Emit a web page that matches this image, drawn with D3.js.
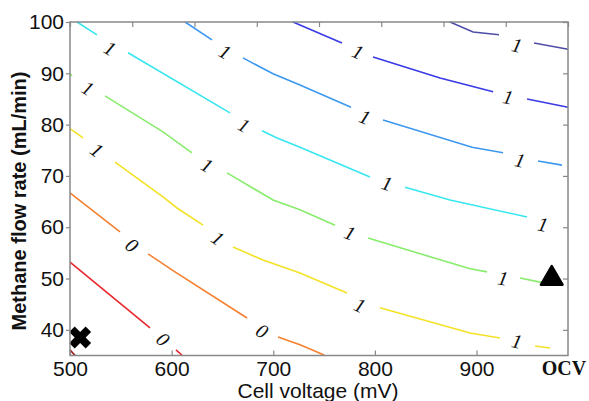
<!DOCTYPE html>
<html>
<head>
<meta charset="utf-8">
<title>Methane flow rate vs cell voltage</title>
<script src="https://cdn.jsdelivr.net/npm/d3@7/dist/d3.min.js"></script>
<style>
  body { margin: 0; background: #fff; }
  text { font-family: "Liberation Sans", Arial, sans-serif; }
</style>
</head>
<body>
<svg width="589" height="401"></svg>
<script>
// contour pieces as [cell voltage (mV), methane flow (mL/min)], gaps = where labels sit
const darkRedLine = [[[500, 36.1], [505, 35]]];
const redLine = [
    [[500, 53.2], [578.7, 40.4]],
    [[604.3, 36.1], [610.5, 35]]
];
const orangeLine = [
    [[500, 66.7], [549.2, 59.1]],
    [[576.8, 54.8], [603.3, 51.3], [674.2, 42.3]],
    [[704.7, 38.6], [726.3, 37.1], [750, 35.1]]
];
const yellowLine = [
    [[500, 79.2], [512.8, 77.4]],
    [[544.3, 72.7], [591.5, 65.9], [605.3, 63.75], [630.9, 60.4]],
    [[660.4, 56.15], [689.9, 53.6], [726.3, 51.1], [772.6, 47.2]],
    [[805, 44.3], [893.6, 39.4], [923.1, 38.4]],
    [[957.6, 36.85], [972.3, 36.46]]
];
const greenLine = [
    [[500, 89.9], [502, 89.5]],
    [[534.4, 85.6], [591.5, 78.6], [620, 74.5]],
    [[654.5, 70.6], [699.8, 65.3], [726.3, 63.4], [760.8, 60.4]],
    [[793.2, 57.9], [893.6, 51.9], [910.3, 51.3]],
    [[942.8, 50.1], [962.5, 49.3], [982.2, 48.9]]
];
const cyanLine = [
    [[506.9, 100], [526.6, 97.5]],
    [[557.1, 94.0], [657.4, 82.3]],
    [[688.9, 78.8], [703.7, 77.4], [726.3, 75.6], [795.2, 69.8]],
    [[829.6, 67.8], [873.9, 65.3], [949.7, 62.0]]
];
const skyLine = [
    [[613.2, 100], [639.7, 96.5]],
    [[670.2, 93.0], [699.8, 89.9], [726.3, 87.7], [776.5, 83.4]],
    [[808, 80.9], [895.6, 75.6], [926.1, 74.5]],
    [[960.5, 72.9], [984.1, 72.1]]
];
const blueLine = [
    [[719.4, 100], [767.6, 95.9]],
    [[798.2, 93.2], [864.1, 89.1], [916.3, 86.4]],
    [[949.7, 85.0], [990, 83.4]]
];
const indigoLine = [
    [[873.9, 100], [896.6, 98.05], [922.1, 97.5]],
    [[956.6, 95.9], [990, 94.7]]
];

// inline label positions for each contour
const darkRedLabels = [];
const redLabels = [[591.5, 38.2]];
const orangeLabels = [[561, 56.5], [689, 39.8]];
const yellowLabels = [[526.6, 75.05], [645.6, 57.9], [785.4, 44.8], [939.8, 37.8]];
const greenLabels = [[517.7, 87.1], [634.8, 72.1], [775.5, 58.9], [926, 50.1]];
const cyanLabels = [[539.4, 94.9], [671.2, 79.9], [811.9, 68.6], [965.4, 60.6]];
const skyLabels = [[652.5, 94.2], [790.3, 81.5], [942.8, 73.1]];
const blueLabels = [[783.4, 94.2], [931, 85.4]];
const indigoLabels = [[939.9, 95.5]];

const lineColors = ['#a01818', '#e8262c', '#f58030', '#f4e226', '#88ec6c', '#38e6f0', '#3c98f0', '#3a3ae6', '#4e4ea8'];
const labelTexts = ['0', '0', '0', '1', '1', '1', '1', '1', '1'];

const xTicks = [500, 600, 700, 800, 900];
const yTicks = [40, 50, 60, 70, 80, 90, 100];
const topTicks = [500, 561.25, 622.5, 683.75, 745, 806.25, 867.5, 928.75, 990];

const markerX = [[510, 38.5]];
const markerTriangle = [[974, 50]];

const lines = [darkRedLine, redLine, orangeLine, yellowLine, greenLine, cyanLine, skyLine, blueLine, indigoLine];
const labels = [darkRedLabels, redLabels, orangeLabels, yellowLabels, greenLabels, cyanLabels, skyLabels, blueLabels, indigoLabels];

const svg = d3.select('svg');

const x = d3.scaleLinear().domain([500, 990]).range([70, 568]);
const y = d3.scaleLinear().domain([35, 100]).range([355.5, 22]);

const line = d3.line().x(d => x(d[0])).y(d => y(d[1]));

const plot = svg.append('g');

lines.forEach((segs, i) => {
    plot.selectAll(null)
        .data(segs)
        .enter().append('path')
            .attr('d', line)
            .attr('fill', 'none')
            .attr('stroke', lineColors[i])
            .attr('stroke-width', 1.6);

    labels[i].forEach((lab, j) => {
        // angle of the gap the label sits in
        let a, b;
        if (segs[j + 1]) {
            a = segs[j][segs[j].length - 1];
            b = segs[j + 1][0];
        } else {
            const s = segs[j];
            a = s[s.length - 2];
            b = s[s.length - 1];
        }
        const ang = Math.atan2(y(b[1]) - y(a[1]), x(b[0]) - x(a[0])) * 180 / Math.PI;
        plot.append('text')
            .attr('transform', `translate(${x(lab[0])},${y(lab[1])}) rotate(${ang})`)
            .attr('text-anchor', 'middle')
            .attr('dominant-baseline', 'central')
            .style('font-family', '"Liberation Serif", "Times New Roman", serif')
            .style('font-style', 'italic')
            .style('font-size', '20px')
            .attr('fill', '#111')
            .text(labelTexts[i]);
    });
});

// markers
plot.selectAll(null)
    .data(markerX)
    .enter().append('path')
        .attr('d', d3.symbol(d3.symbolCross, 300))
        .attr('transform', d => `translate(${x(d[0])},${y(d[1])}) rotate(45)`)
        .attr('fill', '#000');

plot.selectAll(null)
    .data(markerTriangle)
    .enter().append('path')
        .attr('d', d3.symbol(d3.symbolTriangle, 200))
        .attr('transform', d => `translate(${x(d[0])},${y(d[1])})`)
        .attr('fill', '#000')
        .attr('stroke', '#000')
        .attr('stroke-width', 2.5)
        .attr('stroke-linejoin', 'round');

// axes
svg.append('g')
    .attr('transform', 'translate(0,355.5)')
    .call(d3.axisBottom(x).tickValues(xTicks).tickSizeInner(-5).tickSizeOuter(0).tickPadding(6));

svg.append('g')
    .attr('transform', 'translate(70,0)')
    .call(d3.axisLeft(y).tickValues(yTicks).tickSizeInner(4).tickSizeOuter(0).tickPadding(2));

svg.append('g')
    .attr('transform', 'translate(568,0)')
    .call(d3.axisRight(y).tickValues(yTicks).tickSizeInner(-5).tickSizeOuter(0).tickFormat(''));

svg.append('g')
    .attr('transform', 'translate(0,22)')
    .call(d3.axisTop(x).tickValues(topTicks).tickSizeInner(-5).tickSizeOuter(0).tickFormat(''));

svg.selectAll('.domain').remove();
svg.selectAll('.tick line').attr('stroke', '#888').attr('stroke-width', 1.2);
svg.selectAll('.tick text')
    .style('font-family', '"Liberation Sans", Arial, sans-serif')
    .style('font-size', '21px')
    .attr('fill', '#111');

svg.append('rect')
    .attr('x', 70)
    .attr('y', 22)
    .attr('width', 498)
    .attr('height', 333.5)
    .attr('fill', 'none')
    .attr('stroke', '#888')
    .attr('stroke-width', 1.5);

svg.append('text')
    .attr('x', 564)
    .attr('y', 375)
    .attr('text-anchor', 'middle')
    .style('font-family', '"Liberation Serif", "Times New Roman", serif')
    .style('font-weight', 'bold')
    .style('font-size', '20px')
    .attr('fill', '#111')
    .text('OCV');

svg.append('text')
    .attr('x', 318)
    .attr('y', 398)
    .attr('text-anchor', 'middle')
    .style('font-size', '21px')
    .attr('fill', '#111')
    .text('Cell voltage (mV)');

svg.append('text')
    .attr('transform', 'translate(26,201) rotate(-90)')
    .attr('text-anchor', 'middle')
    .style('font-size', '20px')
    .style('font-weight', 'bold')
    .attr('fill', '#111')
    .text('Methane flow rate (mL/min)');
</script>
</body>
</html>
